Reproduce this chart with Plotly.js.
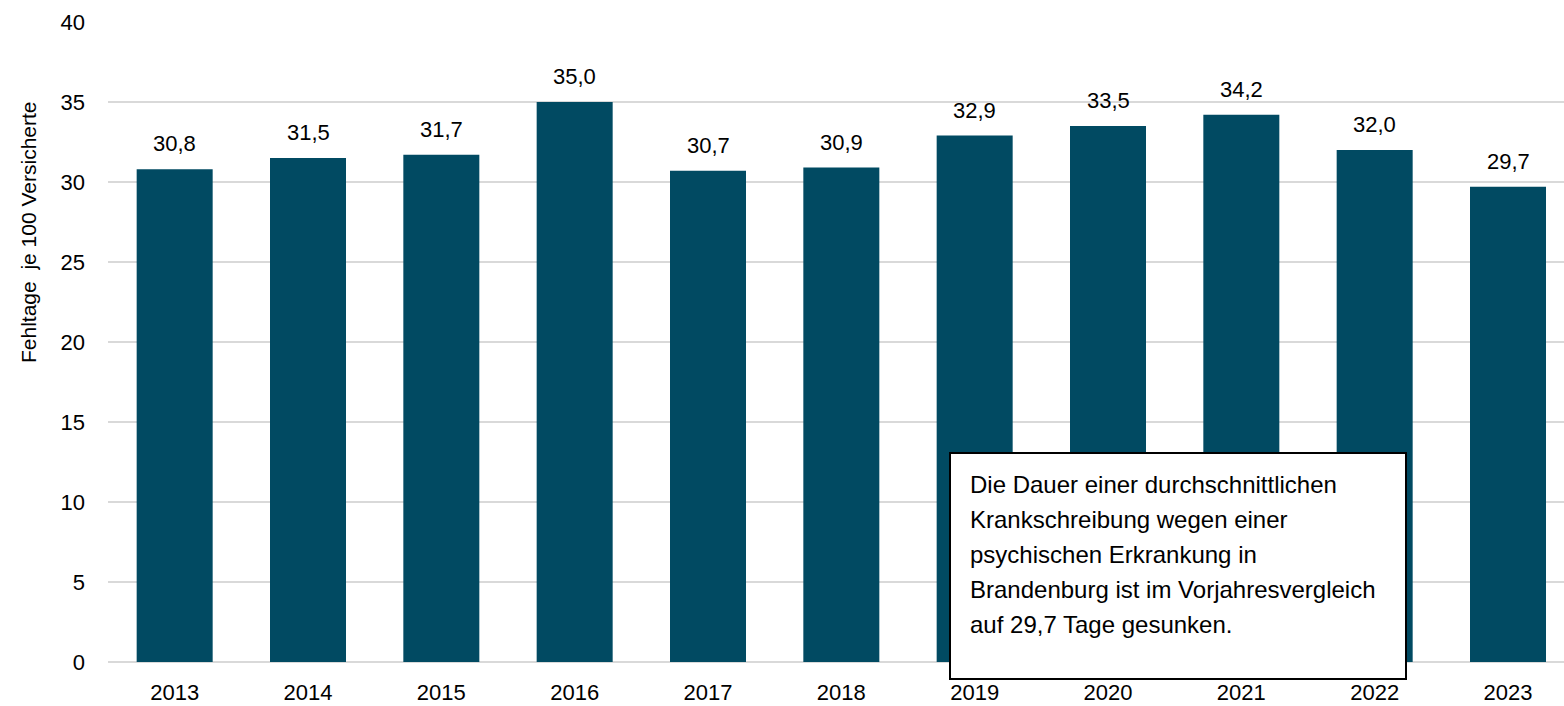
<!DOCTYPE html>
<html><head><meta charset="utf-8">
<script src="https://cdn.plot.ly/plotly-3.0.1.min.js"></script>
<style>html,body{margin:0;padding:0;background:#fff}#chart{width:1564px;height:706px}</style>
</head><body><div id="chart"></div>
<script>
const years = ['2013','2014','2015','2016','2017','2018','2019','2020','2021','2022','2023'];
const fehltage = [30.8, 31.5, 31.7, 35.0, 30.7, 30.9, 32.9, 33.5, 34.2, 32.0, 29.7];
const yTicks = [0, 5, 10, 15, 20, 25, 30, 35, 40];
const yTitle = 'Fehltage\u00a0 je 100 Versicherte';
const boxLines = [
  'Die Dauer einer durchschnittlichen',
  'Krankschreibung wegen einer',
  'psychischen Erkrankung in',
  'Brandenburg ist im Vorjahresvergleich',
  'auf 29,7 Tage gesunken.'
];

const FONT = '"Liberation Sans", Arial, sans-serif';
const fmt = v => v.toFixed(1).replace('.', ',');

const annotations = fehltage.map((v, i) => ({
  x: i, y: v, xref: 'x', yref: 'y',
  text: fmt(v), showarrow: false,
  yanchor: 'bottom', yshift: 11,
  font: {family: FONT, size: 22, color: '#000'}
}));

annotations.push({
  xref: 'paper', yref: 'paper', x: (28 - 108) / 1456, y: (662 - 232) / 640,
  text: yTitle, textangle: -90, showarrow: false,
  xanchor: 'center', yanchor: 'middle',
  font: {family: FONT, size: 21, color: '#000'}
});

boxLines.forEach((t, i) => {
  annotations.push({
    xref: 'paper', yref: 'paper', x: (968 - 108) / 1456,
    y: (662 - (484 + i * 35.2)) / 640,
    text: t, showarrow: false, xanchor: 'left', yanchor: 'middle',
    font: {family: FONT, size: 24, color: '#000'}
  });
});

const layout = {
  width: 1564, height: 706,
  margin: {l: 108, r: 0, t: 22, b: 44},
  paper_bgcolor: '#fff', plot_bgcolor: '#fff',
  separators: ',.',
  showlegend: false,
  bargap: 0.43,
  xaxis: {
    type: 'category', range: [-0.5, 10.42],
    tickfont: {family: FONT, size: 22, color: '#000'},
    showgrid: false, zeroline: false, showline: false, ticks: '',
    ticklabelstandoff: 15, fixedrange: true
  },
  yaxis: {
    range: [0, 40], tickvals: yTicks, ticktext: yTicks.map(String),
    tickfont: {family: FONT, size: 22, color: '#000'},
    gridcolor: '#d9d9d9', gridwidth: 2,
    zeroline: true, zerolinecolor: '#d9d9d9', zerolinewidth: 2,
    showline: false, ticks: '', ticklabelstandoff: 22,
    fixedrange: true
  },
  shapes: [{
    type: 'rect', xref: 'paper', yref: 'paper',
    x0: (950 - 108) / 1456, x1: (1406 - 108) / 1456,
    y0: (662 - 679) / 640, y1: (662 - 453) / 640,
    fillcolor: '#fff', line: {color: '#000', width: 2}, layer: 'above'
  }],
  annotations: annotations
};

Plotly.newPlot('chart', [{
  type: 'bar', x: years, y: fehltage,
  marker: {color: '#014a62', line: {width: 0}}, hoverinfo: 'skip',
  cliponaxis: false
}], layout, {displayModeBar: false, staticPlot: true});
</script></body></html>
